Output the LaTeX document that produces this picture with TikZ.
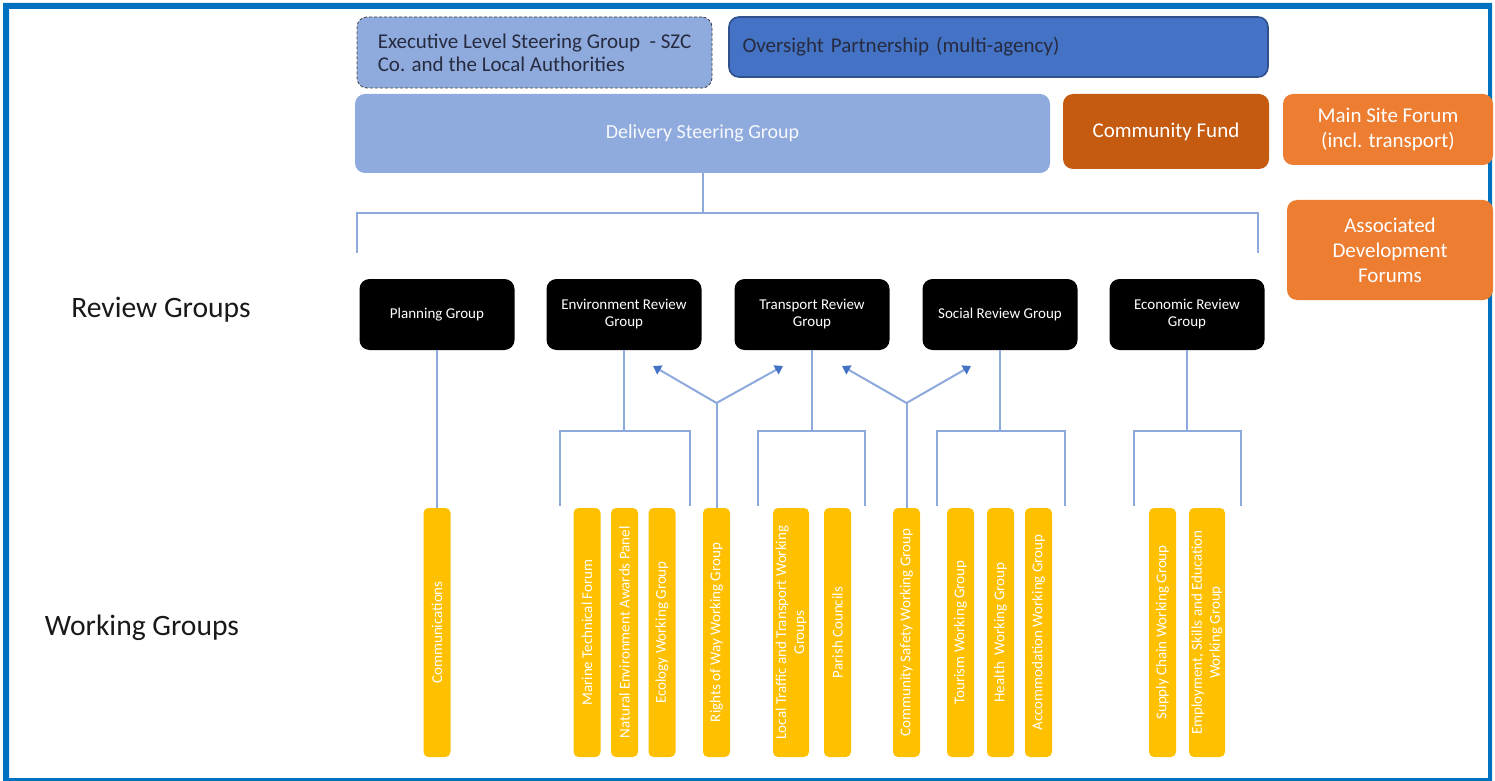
\documentclass[tikz,border=0pt]{standalone}
\usepackage{fontspec}
\setmainfont{Carlito}
\usetikzlibrary{arrows.meta,positioning}
\definecolor{framebl}{HTML}{0070C0}
\definecolor{paleblue}{HTML}{8FAADC}
\definecolor{midblue}{HTML}{4472C4}
\definecolor{navy}{HTML}{2F528F}
\definecolor{rust}{HTML}{C55A11}
\definecolor{orng}{HTML}{ED7D31}
\definecolor{amber}{HTML}{FFC000}
\definecolor{linkblue}{HTML}{8EA9DB}
\definecolor{inkdark}{HTML}{262B40}
\tikzset{
  box/.style={rounded corners=5pt, inner sep=3pt, align=center},
  topbox/.style={box, fill=paleblue, font=\fontsize{10.5}{11.5}\selectfont},
  orangebox/.style={box, fill=orng, text=white, font=\fontsize{10.5}{12.5}\selectfont, minimum width=103pt},
  review/.style={box, fill=black, text=white, minimum width=77.5pt, minimum height=35.5pt, font=\fontsize{7.5}{8.5}\selectfont},
  wg/.style={rounded corners=2.5pt, fill=amber, text=white, rotate=90, minimum width=124.5pt, inner sep=1pt, align=center, font=\fontsize{7.5}{9}\selectfont},
  link/.style={draw=linkblue, line width=1pt},
  tip/.style={link, -{Triangle[length=4pt,width=5pt,color=midblue]}},
  side/.style={text=black!90, font=\fontsize{14.8}{16}\selectfont}
}

\begin{document}
\begin{tikzpicture}[x=0.5pt,y=-0.5pt]
  \useasboundingbox (0,0) rectangle (1495,781);
  \fill[framebl, even odd rule] (3,3) rectangle (1492,781) (9,9) rectangle (1488,778);

  % top row
  \node[topbox, draw=darkgray, dash pattern=on 1.5pt off 1pt, minimum width=177.5pt, minimum height=35.5pt, align=left, text=inkdark] (exec) at (534.5,52.5) {Executive Level Steering Group~ - SZC\\Co. and the Local Authorities};
  \node[topbox, fill=midblue, draw=navy, line width=0.8pt, minimum width=269.5pt, minimum height=30pt, text width=256pt, align=left, text=inkdark] (osp) at (998.5,47) {\raisebox{2pt}{Oversight Partnership (multi-agency)}};
  \node[topbox, minimum width=347.5pt, minimum height=39.5pt, text=white!92!paleblue, font=\fontsize{10}{12}\selectfont] (dsg) at (702.5,133.5) {Delivery Steering Group};
  \node[orangebox, fill=rust, minimum height=37.5pt] (fund) at (1166,131.5) {Community Fund};
  \node[orangebox, minimum width=105pt, minimum height=35.5pt] (msf) at (1388,129.5) {Main Site Forum\\(incl. transport)};
  \node[orangebox, minimum height=50pt] (adf) at (1390,250) {Associated\\Development\\Forums};

  % side labels
  \node[side] (revlbl) at (161,310) {Review Groups};
  \node[side] (wglbl) at (142,628) {Working Groups};

  % review groups
  \foreach \nm/\cx/\txt in {plan/437/Planning Group, env/624/Environment Review\\Group, trn/812/Transport Review\\Group, soc/1000/Social Review Group, econ/1187/Economic Review\\Group}
    \node[review] (\nm) at (\cx,314.5) {\txt};

  % working groups
  \foreach \nm/\cx/\bw/\txt in {comm/437/13.5pt/Communications, marine/587/13.5pt/Marine Technical Forum, award/624.5/13.5pt/Natural Environment Awards Panel, ecol/662/13.5pt/Ecology Working Group, row/716.5/13.5pt/Rights of Way Working Group, traffic/791/18pt/Local Traffic and Transport Working\\Groups, parish/837.5/13.5pt/Parish Councils, safety/906.5/13.5pt/Community Safety Working Group, tourism/960.5/13.5pt/Tourism Working Group, health/1000.5/13.5pt/Health~~Working Group, accom/1038.5/13.5pt/Accommodation Working Group, supply/1162.5/13.5pt/Supply Chain Working Group, employ/1207/18pt/{Employment, Skills and Education\\Working Group}}
    \node[wg, minimum height=\bw] (\nm) at (\cx,632.5) {\txt};

  % steering group to review groups
  \coordinate (bus) at (702.5,213);
  \coordinate (bus-l) at (357,253);
  \coordinate (bus-r) at (1258,253);
  \draw[link] (dsg.south) -- (bus);
  \draw[link] (bus-l) |- (bus) -| (bus-r);

  % review groups to working groups
  \draw[link] (plan.south) -- (comm.east);
  \foreach \nm/\xl/\xr in {env/560/690, trn/758/865, soc/937/1065, econ/1134/1241}{
    \coordinate (\nm-l) at (\xl,506);
    \coordinate (\nm-r) at (\xr,506);
    \draw[link] (\nm.south) -- ++(0,81) coordinate (\nm-j);
    \draw[link] (\nm-l) |- (\nm-j) -| (\nm-r);
  }

  % shared working groups
  \coordinate (row-j) at (716.5,403);
  \coordinate (row-a) at (653,366);
  \coordinate (row-b) at (783,366);
  \draw[link] (row.east) -- (row-j);
  \draw[tip] (row-j) -- (row-a);
  \draw[tip] (row-j) -- (row-b);
  \coordinate (safety-j) at (906.5,403);
  \coordinate (safety-a) at (842,366);
  \coordinate (safety-b) at (971,366);
  \draw[link] (safety.east) -- (safety-j);
  \draw[tip] (safety-j) -- (safety-a);
  \draw[tip] (safety-j) -- (safety-b);
\end{tikzpicture}
\end{document}
